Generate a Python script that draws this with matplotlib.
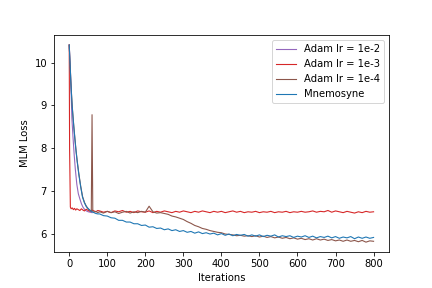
import matplotlib
matplotlib.use("Agg")
import matplotlib.pyplot as plt

# ---- data ----
tail_iters = list(range(80, 801, 10))

purple_iters = [0, 3, 5, 7, 10, 13, 16, 20, 24, 28, 32, 36, 40, 45, 50, 55, 60]
purple_loss = [10.41, 9.86, 9.30, 8.69, 8.25, 7.85, 7.51, 7.15, 6.93, 6.81, 6.70,
               6.62, 6.57, 6.53, 6.51, 6.50, 6.49]

red_early_iters = [0, 1, 3, 5, 8, 11, 14, 17, 20, 24, 28, 32, 36, 40, 45, 50, 55,
                   60, 65, 70, 75]
red_early = [10.41, 7.98, 6.62, 6.58, 6.60, 6.56, 6.59, 6.55, 6.58, 6.56, 6.54,
             6.58, 6.55, 6.53, 6.57, 6.54, 6.52, 6.55, 6.53, 6.51, 6.54]
red_tail = [
    6.53, 6.50, 6.52, 6.49, 6.53, 6.51, 6.54, 6.50, 6.52, 6.49,
    6.53, 6.51, 6.50, 6.53, 6.49, 6.52, 6.50, 6.53, 6.51, 6.49,
    6.52, 6.50, 6.53, 6.51, 6.49, 6.52, 6.50, 6.53, 6.51, 6.49,
    6.52, 6.50, 6.52, 6.49, 6.51, 6.53, 6.50, 6.52, 6.49, 6.51,
    6.50, 6.52, 6.49, 6.51, 6.50, 6.52, 6.49, 6.51, 6.50, 6.52,
    6.49, 6.51, 6.50, 6.52, 6.50, 6.51, 6.53, 6.50, 6.52, 6.51,
    6.54, 6.50, 6.53, 6.51, 6.49, 6.52, 6.50, 6.48, 6.51, 6.49,
    6.52, 6.50, 6.51,
]

brown_early_iters = [0, 2, 4, 6, 8, 10, 12, 15, 18, 21, 25, 30, 35, 40, 45, 50,
                     55, 58, 60, 62, 65, 70, 75]
brown_early = [10.41, 10.02, 9.62, 9.27, 8.97, 8.74, 8.52, 8.22, 7.94, 7.70, 7.42,
               7.12, 6.87, 6.73, 6.64, 6.58, 6.54, 6.52, 8.78, 6.51, 6.50, 6.52, 6.49]
brown_tail = [
    6.51, 6.48, 6.52, 6.49, 6.51, 6.47, 6.50, 6.52, 6.48, 6.51,
    6.49, 6.52, 6.50, 6.64, 6.51, 6.48, 6.49, 6.47, 6.45, 6.41,
    6.39, 6.36, 6.33, 6.28, 6.24, 6.19, 6.16, 6.12, 6.10, 6.07,
    6.05, 6.03, 6.02, 5.99, 5.98, 5.97, 5.95, 5.96, 5.94, 5.95,
    5.93, 5.95, 5.92, 5.94, 5.91, 5.93, 5.90, 5.92, 5.89, 5.91,
    5.88, 5.90, 5.87, 5.89, 5.86, 5.88, 5.85, 5.88, 5.85, 5.87,
    5.84, 5.86, 5.83, 5.85, 5.82, 5.85, 5.82, 5.84, 5.81, 5.84,
    5.80, 5.83, 5.82,
]

blue_early_iters = [0, 2, 4, 6, 8, 10, 12, 15, 18, 21, 25, 30, 35, 40, 45, 50, 55,
                    60, 65, 70, 75]
blue_early = [10.41, 10.0, 9.6, 9.25, 8.95, 8.72, 8.5, 8.2, 7.92, 7.68, 7.4, 7.1,
              6.85, 6.72, 6.63, 6.58, 6.54, 6.51, 6.49, 6.47, 6.46]
blue_tail = [
    6.46, 6.42, 6.41, 6.37, 6.36, 6.31, 6.31, 6.27, 6.27, 6.23,
    6.23, 6.19, 6.20, 6.15, 6.16, 6.12, 6.13, 6.09, 6.11, 6.07,
    6.09, 6.05, 6.07, 6.03, 6.05, 6.01, 6.04, 6.00, 6.02, 5.99,
    6.01, 5.97, 6.00, 5.96, 5.99, 5.95, 5.98, 5.96, 5.98, 5.94,
    5.97, 5.94, 5.97, 5.93, 5.96, 5.94, 5.97, 5.92, 5.95, 5.93,
    5.95, 5.91, 5.94, 5.92, 5.95, 5.91, 5.94, 5.90, 5.93, 5.91,
    5.94, 5.90, 5.93, 5.89, 5.92, 5.90, 5.93, 5.88, 5.92, 5.89,
    5.92, 5.89, 5.91,
]

labels = ["Adam lr = 1e-2", "Adam lr = 1e-3", "Adam lr = 1e-4", "Mnemosyne"]
colors = ["tab:purple", "tab:red", "tab:brown", "tab:blue"]

fig = plt.figure(figsize=(6, 4), dpi=72)
ax = fig.add_subplot(111)
fig.subplots_adjust(left=0.125, right=0.9, bottom=0.125, top=0.878)

lw = 1.1
ax.plot(purple_iters, purple_loss, color=colors[0], lw=lw, label=labels[0])
ax.plot(red_early_iters + tail_iters, red_early + red_tail, color=colors[1], lw=lw,
        label=labels[1])
ax.plot(brown_early_iters + tail_iters, brown_early + brown_tail, color=colors[2],
        lw=lw, label=labels[2])
ax.plot(blue_early_iters + tail_iters, blue_early + blue_tail, color=colors[3],
        lw=lw, label=labels[3])

ax.set_xlabel("Iterations")
ax.set_ylabel("MLM Loss")
ax.set_xticks([0, 100, 200, 300, 400, 500, 600, 700, 800])
ax.legend(loc="upper right")

fig.savefig("out.png", dpi=72)
